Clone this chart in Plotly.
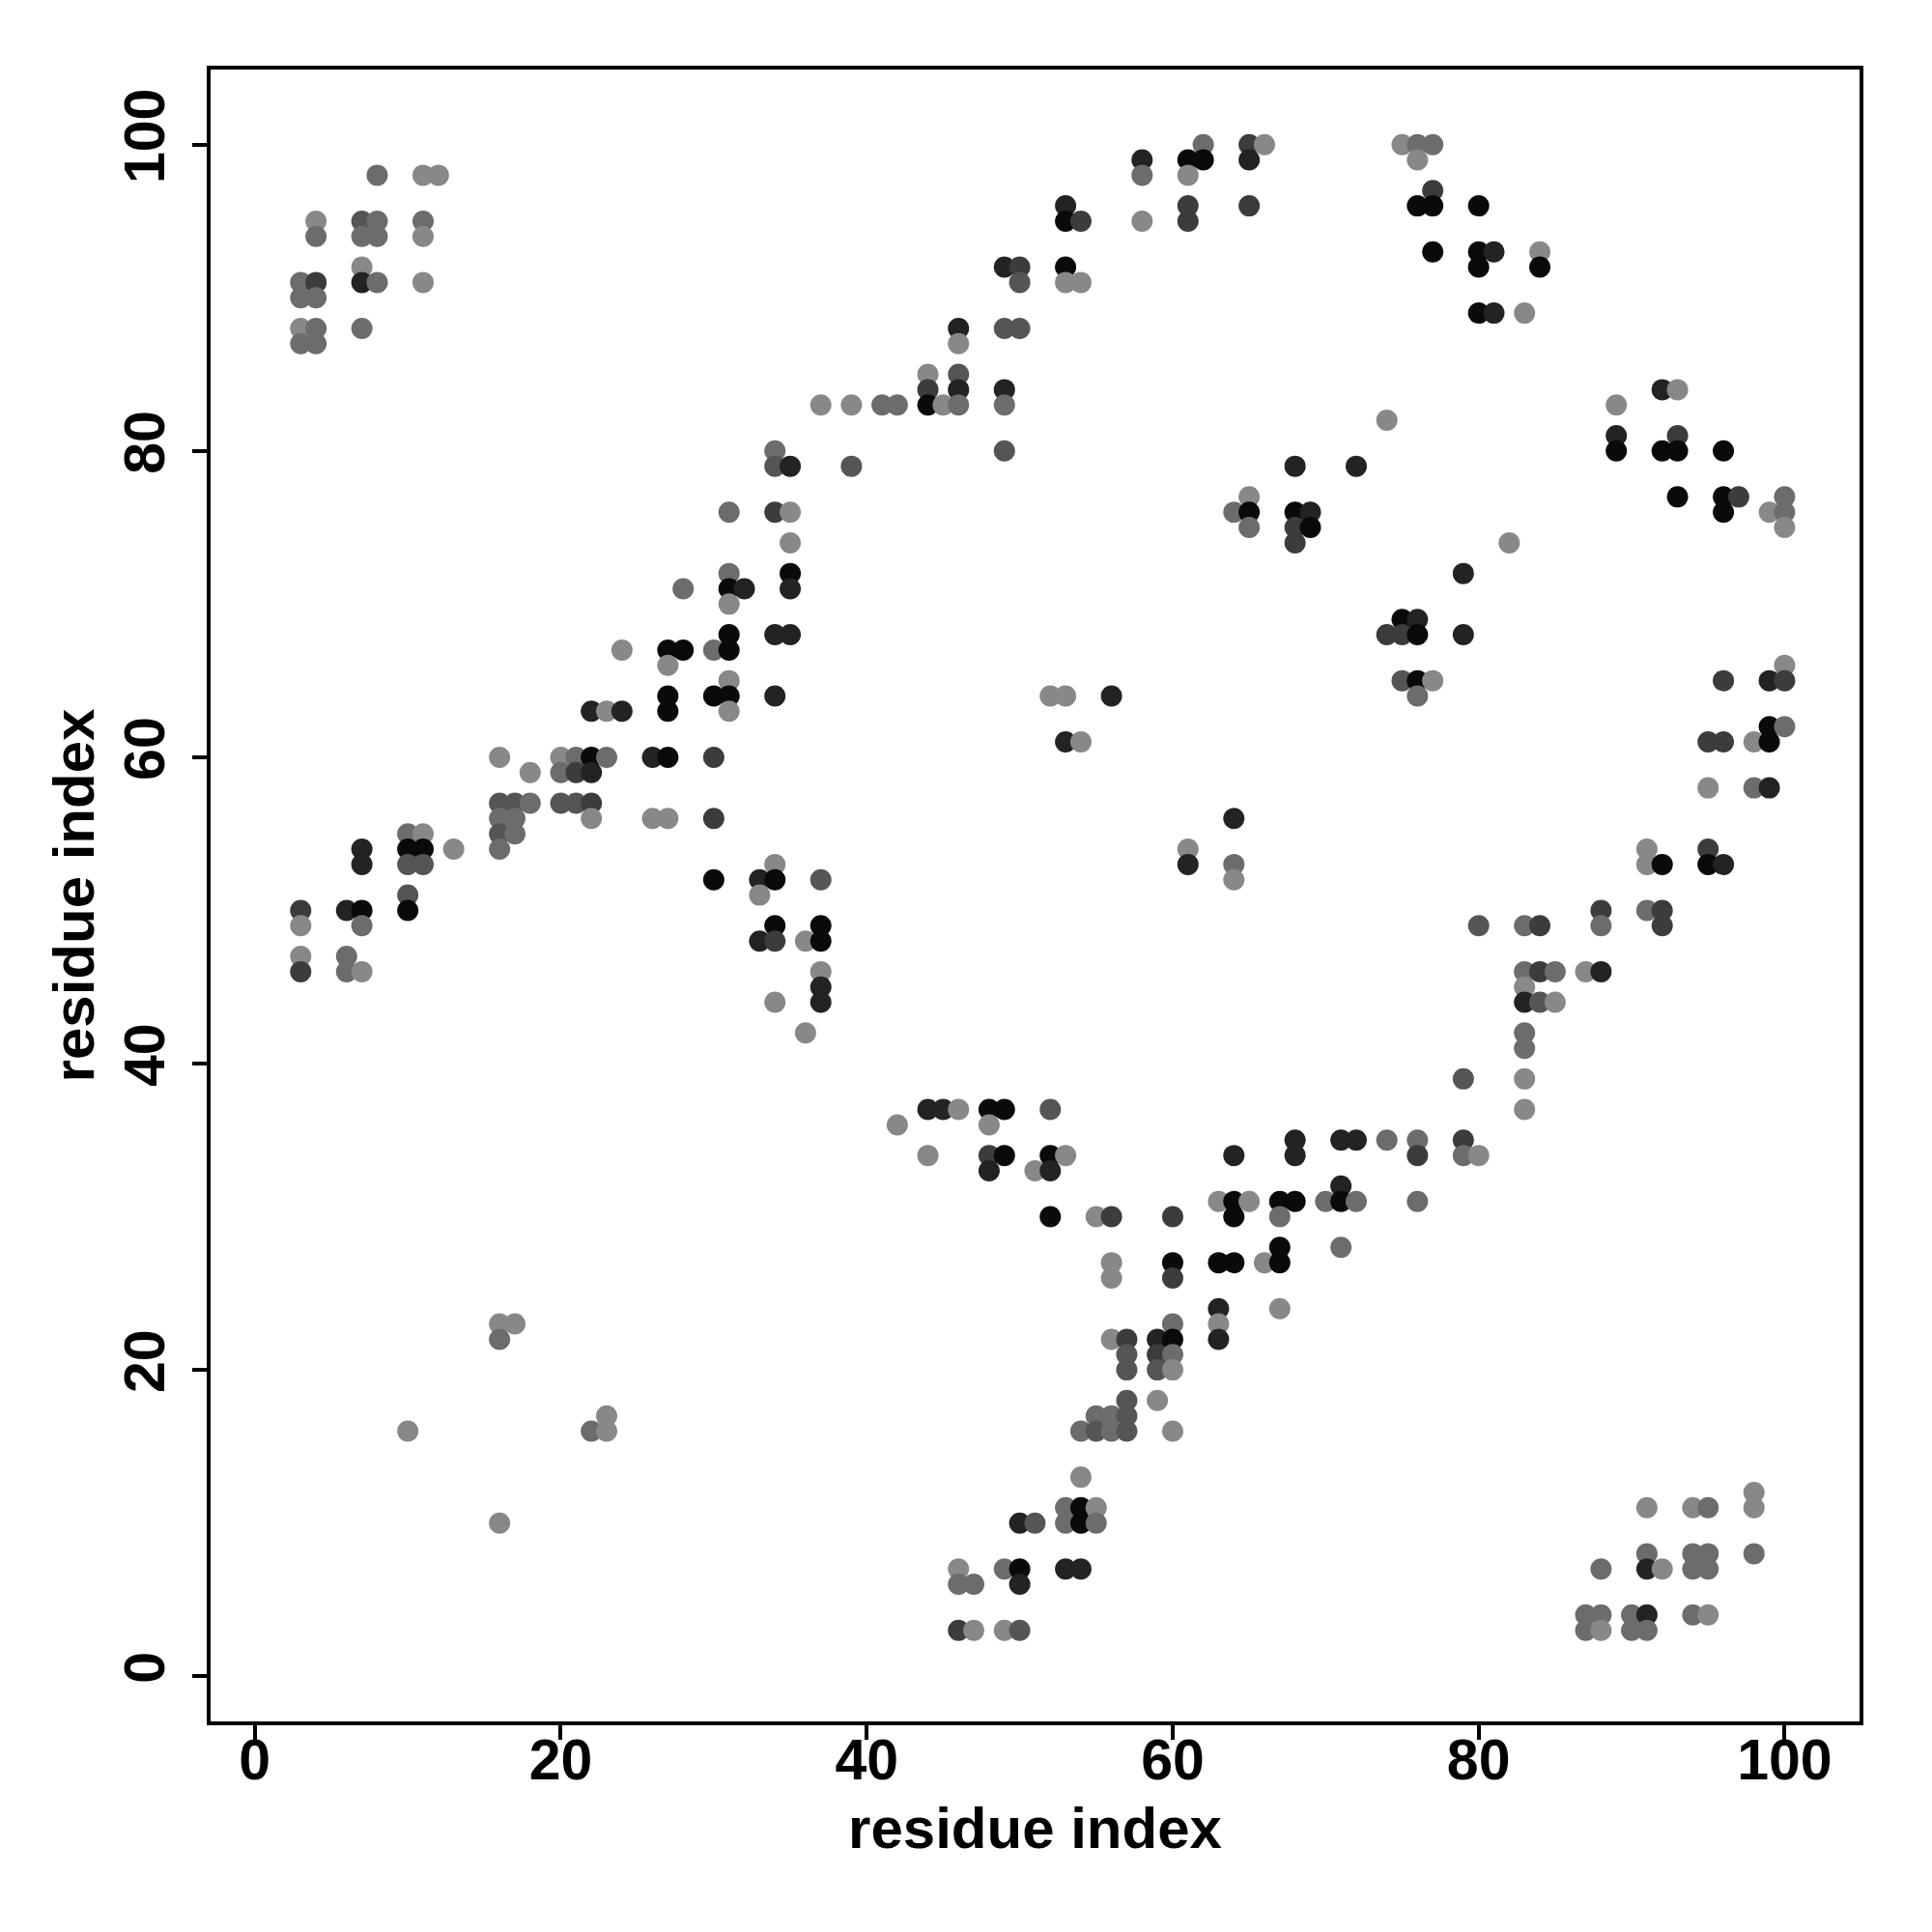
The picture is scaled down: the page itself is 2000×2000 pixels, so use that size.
import plotly.graph_objects as go

# residue i (x), residue j (y), shade level (0 = darkest ... 5 = lightest)
res_i = [
    8, 11, 12, 4, 7, 8, 11, 4, 7, 8, 11, 7, 3, 4, 7, 8, 11, 3, 4, 3, 4, 7, 3, 4,
    62, 65, 66, 58, 61, 62, 65, 58, 61, 53, 61, 65, 53, 54, 58, 61, 49, 50, 53, 50, 53, 54,
    46, 49, 50, 46, 44, 46, 44, 46, 49, 37, 39, 41, 42, 44, 45, 46, 49, 34, 49, 34, 35, 39, 68,
    75, 76, 77, 76, 77, 76, 77, 80, 77, 80, 81, 84, 80, 84, 80, 81, 83, 92, 93, 89, 74, 89, 93,
    89, 92, 93, 96, 72,
    31, 31, 28, 31, 32, 31, 31, 24, 27, 28, 30, 31, 27, 31, 27, 30, 31, 22, 23, 24, 27, 31,
    16, 20, 21, 22, 23, 26, 27, 30, 18, 20, 21, 22, 16, 17, 18, 20, 21, 22, 16, 17, 22, 26, 27, 30,
    10, 11, 16, 17, 7, 10, 11, 13, 16, 7, 10, 11, 30, 10,
    65, 34, 35, 64, 65, 68, 69, 65, 68, 69, 35, 68, 35, 35, 34, 35, 34, 52, 53, 56, 53, 54,
    64, 61, 61, 64, 34, 33, 34, 37, 64,
    93, 96, 97, 100, 96, 99, 100, 100, 82, 79, 75, 76, 74, 75, 76, 79, 75, 76, 77, 76,
    100, 96, 99, 100, 99, 100, 95, 96, 98, 99, 95, 98, 99, 91, 95, 91, 92, 95, 96,
    3, 6, 7, 10, 3, 7, 3, 6, 3, 6, 7,
    33, 34, 37, 33, 34, 36, 37, 37, 37, 34, 37, 36, 44, 45, 46, 48, 49, 52, 42, 48,
    44, 48, 49, 52, 53, 48, 51, 52, 64, 68, 68, 63, 64, 65, 67, 68, 52, 55, 56, 60, 64, 67,
    67, 56, 60, 63, 64, 66, 67, 56, 60, 63, 67,
    88, 91, 92, 80, 83, 84, 88, 92, 83, 84, 85, 87, 88, 83, 83, 84, 85, 83, 83, 79, 83, 83,
    71, 72, 74, 76, 79, 76, 79, 80, 71, 70, 71, 72, 76, 71,
    16, 17, 16, 23, 10, 22, 23, 16,
    60, 63, 56, 57, 59, 60, 63, 57, 59, 60, 57, 59, 60, 57, 59, 55, 56, 57, 54, 55, 56, 57, 60,
    54, 53, 54, 55, 50, 51, 53, 54, 55, 46, 49, 50, 53, 54, 46, 47, 50, 46, 47, 49, 50,
    98, 91, 94, 95, 98, 91, 94, 95, 98, 88, 91, 92, 94, 95, 87, 88, 90, 91, 94, 95, 87, 88, 90, 91,
]
res_j = [
    98, 98, 98, 95, 95, 95, 95, 94, 94, 94, 94, 92, 91, 91, 91, 91, 91, 90, 90, 88, 88, 88, 87, 87,
    100, 100, 100, 99, 99, 99, 99, 98, 98, 96, 96, 96, 95, 95, 95, 95, 92, 92, 92, 91, 91, 91,
    88, 88, 88, 87, 85, 85, 84, 84, 84, 83, 83, 83, 83, 83, 83, 83, 83, 80, 80, 79, 79, 79, 79,
    100, 100, 100, 99, 97, 96, 96, 96, 93, 93, 93, 93, 92, 92, 89, 89, 89, 84, 84, 83, 82, 81, 81,
    80, 80, 80, 80, 79,
    76, 72, 71, 71, 71, 70, 68, 67, 67, 67, 67, 67, 66, 65, 64, 64, 64, 63, 63, 63, 63, 63,
    60, 60, 60, 60, 60, 60, 60, 60, 59, 59, 59, 59, 57, 57, 57, 57, 57, 57, 56, 56, 56, 56, 56, 56,
    55, 55, 55, 55, 54, 54, 54, 54, 54, 53, 53, 53, 52, 51,
    77, 76, 76, 76, 76, 76, 76, 75, 75, 75, 74, 74, 72, 71, 68, 68, 64, 64, 64, 64, 61, 61,
    56, 54, 53, 53, 53, 52, 52, 52, 52,
    77, 77, 77, 77, 76, 76, 76, 75, 74, 72, 69, 69, 68, 68, 68, 68, 65, 65, 65, 64,
    66, 65, 65, 65, 62, 62, 61, 61, 61, 61, 58, 58, 58, 54, 54, 53, 53, 53, 53,
    50, 50, 50, 50, 49, 49, 47, 47, 46, 46, 46,
    51, 49, 49, 48, 48, 48, 48, 46, 45, 44, 44, 42, 37, 37, 37, 37, 37, 37, 36, 36,
    34, 34, 34, 34, 34, 33, 33, 33, 34, 34, 35, 31, 31, 31, 31, 31, 30, 30, 30, 30, 30, 30,
    28, 27, 27, 27, 27, 27, 27, 26, 26, 24, 24,
    50, 50, 50, 49, 49, 49, 49, 49, 46, 46, 46, 46, 46, 45, 44, 44, 44, 42, 41, 39, 39, 37,
    35, 35, 35, 35, 35, 34, 34, 34, 32, 31, 31, 31, 31, 28,
    23, 23, 22, 17, 16, 16, 16, 10,
    23, 23, 22, 22, 22, 22, 22, 21, 21, 21, 20, 20, 20, 18, 18, 17, 17, 17, 16, 16, 16, 16, 16,
    13, 11, 11, 11, 10, 10, 10, 10, 10, 7, 7, 7, 7, 7, 6, 6, 6, 3, 3, 3, 3,
    12, 11, 11, 11, 11, 8, 8, 8, 8, 7, 7, 7, 7, 7, 4, 4, 4, 4, 4, 4, 3, 3, 3, 3,
]
shade_level = [
    4, 5, 5, 5, 3, 4, 4, 4, 4, 4, 5, 5, 4, 2, 1, 4, 5, 4, 4, 5, 4, 4, 4, 4,
    4, 2, 5, 1, 0, 0, 1, 4, 5, 1, 2, 2, 0, 2, 5, 2, 1, 2, 0, 3, 5, 5,
    1, 3, 3, 5, 5, 3, 2, 1, 1, 5, 5, 4, 4, 0, 5, 4, 4, 4, 3, 3, 1, 3, 1,
    5, 4, 4, 5, 2, 0, 0, 0, 0, 0, 1, 5, 0, 0, 0, 1, 5, 1, 5, 5, 5, 1, 2,
    0, 0, 0, 0, 1,
    4, 4, 4, 0, 1, 5, 0, 5, 0, 0, 4, 0, 5, 5, 0, 0, 0, 1, 5, 1, 0, 5,
    5, 5, 4, 0, 4, 1, 0, 2, 5, 4, 2, 1, 3, 3, 4, 3, 3, 2, 4, 4, 5, 5, 5, 2,
    4, 5, 3, 4, 1, 0, 0, 5, 4, 1, 3, 3, 0, 3,
    5, 2, 5, 4, 0, 0, 1, 4, 2, 0, 5, 2, 0, 1, 1, 1, 1, 5, 5, 1, 1, 5,
    1, 5, 1, 4, 5, 1, 0, 3, 5,
    0, 0, 2, 4, 0, 5, 4, 5, 5, 1, 0, 1, 2, 2, 0, 1, 3, 0, 5, 4,
    5, 2, 1, 2, 0, 4, 2, 2, 5, 0, 5, 4, 1, 5, 2, 5, 0, 0, 1,
    2, 1, 0, 0, 5, 4, 5, 4, 2, 4, 5,
    5, 0, 0, 1, 2, 5, 0, 5, 1, 5, 1, 5, 1, 1, 5, 0, 0, 3, 5, 5,
    5, 2, 0, 0, 5, 1, 5, 1, 1, 1, 1, 5, 0, 5, 0, 0, 0, 5, 2, 2, 0, 4,
    0, 5, 0, 0, 0, 5, 0, 5, 2, 1, 5,
    2, 4, 2, 3, 4, 2, 4, 2, 4, 2, 4, 5, 1, 5, 1, 3, 5, 4, 4, 3, 5, 5,
    1, 1, 4, 4, 2, 2, 4, 5, 1, 4, 0, 4, 4, 4,
    5, 5, 4, 5, 5, 4, 5, 5,
    4, 5, 5, 2, 1, 0, 1, 3, 2, 4, 3, 3, 5, 3, 5, 4, 4, 3, 4, 3, 4, 3, 5,
    5, 4, 0, 5, 1, 3, 4, 0, 4, 5, 4, 0, 1, 1, 4, 4, 1, 2, 5, 5, 3,
    5, 5, 5, 4, 5, 4, 4, 4, 4, 4, 1, 5, 4, 4, 4, 4, 4, 1, 4, 5, 4, 5, 4, 4,
]

tick_values = [0, 20, 40, 60, 80, 100]
tick_labels = ["0", "20", "40", "60", "80", "100"]

gray_palette = ["#0a0a0a", "#232323", "#3c3c3c", "#555555", "#6c6c6c", "#888888"]
colors = [gray_palette[l] for l in shade_level]

fig = go.Figure(
    go.Scatter(
        x=res_i, y=res_j, mode="markers",
        marker=dict(size=22, color=colors, line=dict(width=0)),
        showlegend=False, hoverinfo="skip",
    )
)

font_family = "Liberation Sans, Arial, Helvetica, sans-serif"
axis_common = dict(
    tickvals=tick_values, ticktext=tick_labels,
    ticks="outside", ticklen=15, tickwidth=4, tickcolor="black",
    showline=True, linewidth=4, linecolor="black", mirror=True,
    showgrid=False, zeroline=False,
    tickfont=dict(family=font_family, size=59, color="black", weight="bold"),
)

fig.update_layout(
    width=1992, height=1992,
    margin=dict(l=210, r=75, t=64, b=218, autoexpand=False),
    paper_bgcolor="white", plot_bgcolor="white",
    xaxis=dict(
        range=[-2.89, 104.9], ticklabelstandoff=-30, **axis_common,
        title=dict(text="residue index", standoff=18,
                   font=dict(family=font_family, size=60, color="black", weight="bold")),
    ),
    yaxis=dict(
        range=[-2.95, 104.9], tickangle=-90, ticklabelstandoff=5, **axis_common,
        title=dict(text="residue index", standoff=1,
                   font=dict(family=font_family, size=60, color="black", weight="bold")),
    ),
)

fig.write_html("out.html")
